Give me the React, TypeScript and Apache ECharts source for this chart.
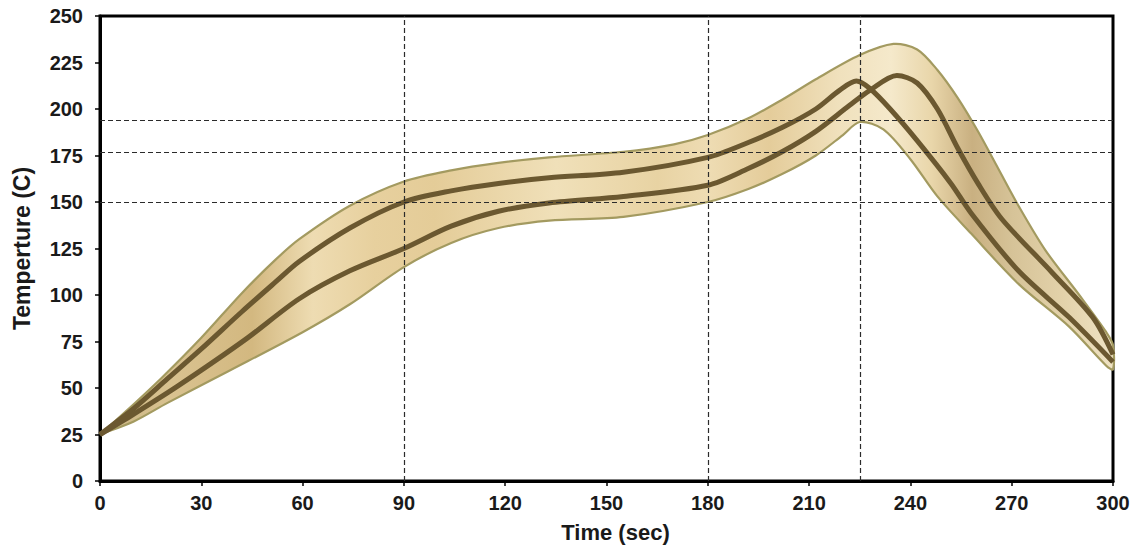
import React, { useEffect, useRef } from "react";
import * as echarts from "echarts";

// Envelope (process window) upper and lower limits
const upperT = [0, 8, 18, 30, 42, 52, 59, 74, 90, 104, 118, 133, 155, 170, 180, 192, 202, 212, 225, 235, 242, 248, 254, 260, 266, 272, 280, 290, 298, 300];
const upperV = [25, 38, 55, 77, 101, 119, 130, 148, 161, 167, 171, 174, 177, 181, 186, 195, 205, 216, 229, 235, 232, 221, 206, 188, 168, 148, 124, 100, 80, 73];
const lowerT = [0, 10, 20, 38, 60, 74, 90, 104, 118, 133, 155, 180, 192, 202, 212, 220, 225, 232, 240, 248, 258, 272, 287, 298, 300];
const lowerV = [25, 32, 42, 59, 80, 95, 115, 128, 136, 140, 142, 150, 157, 165, 175, 186, 193, 189, 173, 153, 133, 106, 83, 62, 60];

// Profile A (earlier peak)
const aT = [0, 10, 20, 30, 42, 52, 59, 74, 90, 104, 118, 133, 155, 180, 192, 202, 212, 219, 224, 228, 234, 242, 252, 258, 272, 287, 300];
const aV = [25, 39, 55, 71, 91, 107, 118, 136, 150, 156, 160, 163, 166, 174, 182, 190, 200, 210, 215, 211, 200, 183, 160, 144, 113, 88, 64];
// Profile B (later peak)
const bT = [0, 10, 23, 43, 59, 74, 90, 104, 118, 133, 155, 180, 192, 202, 212, 222, 228, 236, 242, 248, 254, 260, 267, 282, 294, 300];
const bV = [25, 36, 51, 76, 98, 113, 125, 137, 145, 149.5, 153, 159, 168, 177, 188, 202, 210, 218, 214, 200, 179, 160, 141, 112, 88, 68];

// Reference lines
const refTemps = [150, 177, 194];
const refTimes = [90, 180, 225];

const xTicks = { min: 0, max: 300, interval: 30 };
const yTicks = { min: 0, max: 250, interval: 25 };

const zip = (t: number[], v: number[]) => t.map((x, i) => [x, v[i]]);

export default function App() {
  const ref = useRef<HTMLDivElement>(null);
  useEffect(() => {
    if (!ref.current) return;
    const chart = echarts.init(ref.current, undefined, { renderer: "svg" });
    const font = "Liberation Sans, Arial, sans-serif";
    const gradient = new echarts.graphic.LinearGradient(0, 0, 1, 0, [
      { offset: 0, color: "#c9b584" },
      { offset: 0.07, color: "#d9c290" },
      { offset: 0.15, color: "#d3b880" },
      { offset: 0.21, color: "#eedcb2" },
      { offset: 0.27, color: "#e7d09e" },
      { offset: 0.33, color: "#e4cc98" },
      { offset: 0.45, color: "#f0e0b9" },
      { offset: 0.55, color: "#e8d3a3" },
      { offset: 0.6, color: "#eedcb3" },
      { offset: 0.66, color: "#e4cc9a" },
      { offset: 0.73, color: "#f0e1bd" },
      { offset: 0.78, color: "#f5e9cb" },
      { offset: 0.82, color: "#e9d6aa" },
      { offset: 0.86, color: "#c9b081" },
      { offset: 0.9, color: "#d6c398" },
      { offset: 0.95, color: "#e3d2aa" },
      { offset: 1, color: "#efe3c4" },
    ]);
    const upper = zip(upperT, upperV);
    const lower = zip(lowerT, lowerV);
    const axisCommon = {
      axisLine: { show: true, lineStyle: { color: "#000", width: 3 } },
      axisTick: { show: true, inside: false, length: 5, lineStyle: { color: "#000", width: 1.5 } },
      splitLine: { show: false },
      axisLabel: { fontFamily: font, fontWeight: "bold", fontSize: 20, color: "#1a1a1a" },
      nameTextStyle: { fontFamily: font, fontWeight: "bold", fontSize: 22, color: "#1a1a1a" },
    };
    chart.setOption({
      animation: false,
      backgroundColor: "#fff",
      grid: {
        left: 100, right: 17, top: 16, bottom: 67,
        show: true, borderColor: "#000", borderWidth: 3,
        containLabel: false, outerBoundsMode: "none",
      },
      xAxis: {
        type: "value", ...xTicks,
        ...axisCommon,
        axisLabel: { ...axisCommon.axisLabel, margin: 12 },
        name: "Time (sec)", nameLocation: "middle", nameGap: 40,
        nameTextStyle: { ...axisCommon.nameTextStyle, padding: [0, 0, 0, 18] },
      },
      yAxis: {
        type: "value", ...yTicks,
        ...axisCommon,
        axisLabel: { ...axisCommon.axisLabel, margin: 17 },
        name: "Temperture (C)", nameLocation: "middle", nameGap: 67, nameRotate: 90,
        nameTextStyle: { ...axisCommon.nameTextStyle, fontSize: 23 },
      },
      series: [
        {
          type: "custom",
          coordinateSystem: "cartesian2d",
          data: [[0, 0]],
          z: 1,
          silent: true,
          renderItem: (_params: any, api: any) => {
            const pts = [
              ...upper.map((p) => api.coord(p)),
              ...lower.slice().reverse().map((p) => api.coord(p)),
            ];
            return {
              type: "polygon",
              shape: { points: pts, smooth: 0.3 },
              style: { fill: gradient, stroke: "#a39a60", lineWidth: 2.2 },
            };
          },
        },
        {
          type: "line",
          data: [],
          z: 3,
          markLine: {
            silent: true,
            symbol: "none",
            label: { show: false },
            lineStyle: { color: "#2b2b2b", width: 1.2, type: [5, 3] },
            data: [
              ...refTemps.map((v) => ({ yAxis: v })),
              ...refTimes.map((v) => ({ xAxis: v })),
            ],
          },
        },
        {
          type: "line",
          data: zip(aT, aV),
          smooth: 0.3,
          showSymbol: false,
          z: 4,
          lineStyle: { color: "#6b5830", width: 5 },
        },
        {
          type: "line",
          data: zip(bT, bV),
          smooth: 0.3,
          showSymbol: false,
          z: 4,
          lineStyle: { color: "#6b5830", width: 5 },
        },
      ],
    });
    return () => chart.dispose();
  }, []);
  return (
    <div
      ref={ref}
      style={{ position: "fixed", left: 0, top: 0, width: 1130, height: 548 }}
    />
  );
}
